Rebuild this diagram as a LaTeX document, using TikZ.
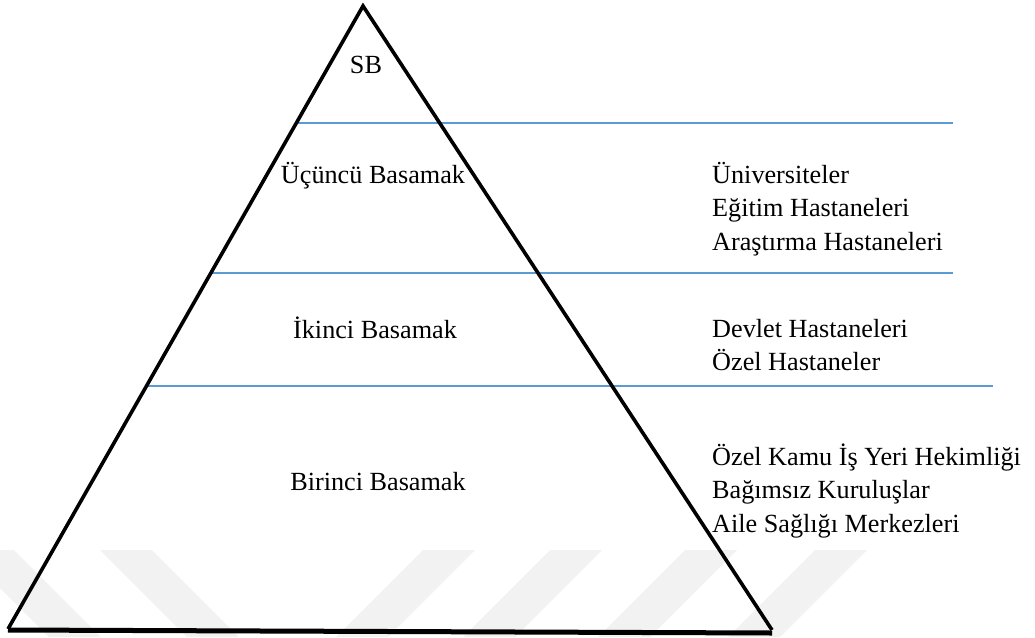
\documentclass[tikz,border=0pt]{standalone}
\usepackage{fontspec}
\setmainfont{Liberation Serif}
\usetikzlibrary{calc}
\definecolor{levelblue}{RGB}{91,155,213}
\definecolor{markgray}{RGB}{242,242,242}
\begin{document}
\begin{tikzpicture}[x=1pt,y=-1pt,
  side/.style={draw=black, line width=3.6pt, line join=miter},
  basestroke/.style={draw=black, line width=5pt},
  level/.style={draw=levelblue, line width=1.4pt},
  lbl/.style={font=\fontsize{26.2}{33.3}\selectfont, inner sep=0pt},
  tier/.style={lbl, anchor=base},
  item/.style={lbl, anchor=base west},
  stripe/.style={fill=markgray, draw=none}]
\useasboundingbox (0,0) rectangle (1035,637);

% faint background chevrons
\foreach \x in {-38,100}
  \fill[stripe] (\x,550) -- (\x+52,550) -- (\x+139,637) -- (\x+87,637) -- cycle;
\foreach \x in {423,550,685,815}
  \fill[stripe] (\x,550) -- (\x+52,550) -- (\x-35,637) -- (\x-87,637) -- cycle;

% pyramid corners
\coordinate (apex) at (363,6);
\coordinate (bl) at (8,629);
\coordinate (br) at (772,630);
\coordinate (blb) at (8,630);
\coordinate (brb) at (772,633);

% level dividers: left ends on the left side, right ends free
\coordinate (l1) at ($(apex)!0.1878!(bl)$);
\coordinate (l2) at ($(apex)!0.4286!(bl)$);
\coordinate (l3) at ($(apex)!0.6100!(bl)$);
\coordinate (e1) at (953,0);
\coordinate (e2) at (953,0);
\coordinate (e3) at (993,0);
\draw[level] (l1) -- (l1 -| e1);
\draw[level] (l2) -- (l2 -| e2);
\draw[level] (l3) -- (l3 -| e3);

% pyramid outline
\draw[side] (bl) -- (apex) -- (br);
\draw[basestroke] (blb) -- (brb);

% tier names
\node[tier] (sb) at (366,73) {SB};
\node[tier] (t3) at (373,183) {Üçüncü Basamak};
\node[tier] (t2) at (375,338) {İkinci Basamak};
\node[tier] (t1) at (378,490) {Birinci Basamak};

% institutions per tier
\node[item] (u1) at (712,183) {Üniversiteler};
\node[item] (u2) at (712,216.5) {Eğitim Hastaneleri};
\node[item] (u3) at (712,250) {Araştırma Hastaneleri};
\node[item] (i1) at (712,337) {Devlet Hastaneleri};
\node[item] (i2) at (712,370) {Özel Hastaneler};
\node[item] (b1) at (712,465) {Özel Kamu İş Yeri Hekimliği};
\node[item] (b2) at (712,498.5) {Bağımsız Kuruluşlar};
\node[item] (b3) at (712,532) {Aile Sağlığı Merkezleri};
\end{tikzpicture}
\end{document}
